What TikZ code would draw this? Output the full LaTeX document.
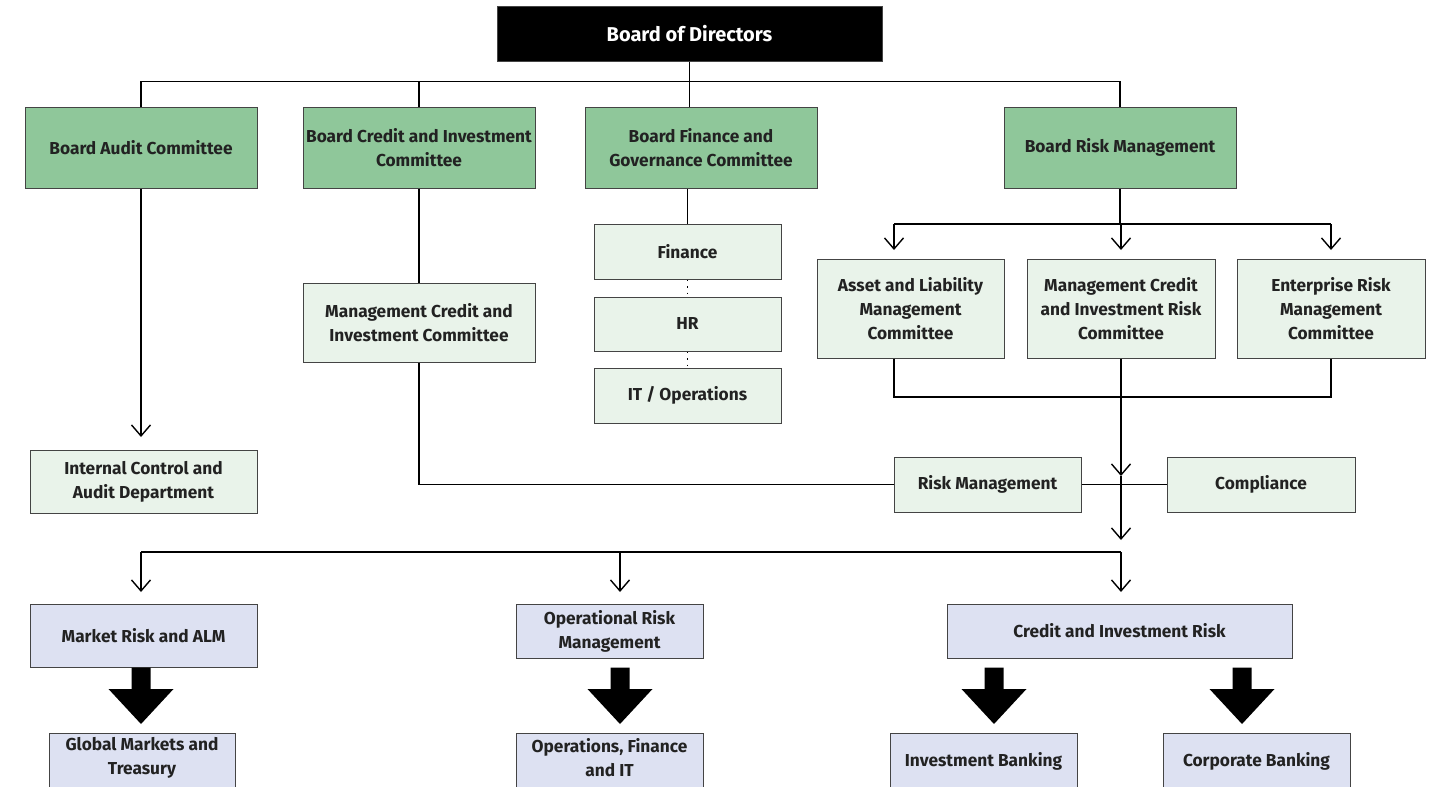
\documentclass[tikz,border=0pt]{standalone}
\usepackage{fontspec}
\setmainfont{Fira Sans}
\usetikzlibrary{arrows.meta,calc}
\definecolor{gr}{HTML}{8FC79A}
\definecolor{lg}{HTML}{E9F3EA}
\definecolor{lb}{HTML}{DDE1F2}
\definecolor{bc}{HTML}{444444}
\definecolor{tc}{HTML}{222222}
\newcommand\blockarrow[2]{%
  \fill[black] ($(#1)+(-9.5,0)$) -- ($(#1)+(9.5,0)$) -- ($(#2)+(9.5,-35)$) -- ($(#2)+(32.5,-35)$) -- (#2) -- ($(#2)+(-32.5,-35)$) -- ($(#2)+(-9.5,-35)$) -- cycle;}
\begin{document}
\begin{tikzpicture}[x=1pt,y=-1pt,
  txt/.style={align=center, font=\fontsize{17.3}{24}\selectfont\bfseries, text=tc, inner sep=0pt},
  box/.style={txt, draw=bc, line width=1pt},
  gbox/.style={box, fill=gr},
  lbox/.style={box, fill=lg},
  bbox/.style={box, fill=lb},
  sz/.style 2 args={minimum width=#1pt, minimum height=#2pt},
  conn/.style={line width=1.6pt, black},
  arr/.style={conn, -{Straight Barb[length=11pt,width=19pt,line width=1.4pt]}},
  dotc/.style={line width=1.6pt, dash pattern=on 1.6pt off 5pt}
]
\clip (0,0) rectangle (1433,787);
\fill[white] (0,0) rectangle (1433,787);

% top
\node[box, fill=black, text=white, sz={385}{55}, font=\fontsize{20}{24}\selectfont\bfseries] (bod) at (689.5,33.5) {Board of Directors};
\node[gbox, sz={232}{81}] (bac) at (141,147.5) {Board Audit Committee};
\node[gbox, sz={232}{81}] (bci) at (419,147.5) {Board Credit and Investment\\Committee};
\node[gbox, sz={232}{81}] (bfg) at (701,147.5) {Board Finance and\\Governance Committee};
\node[gbox, sz={232}{81}] (brm) at (1120,147.5) {Board Risk Management};

\node[lbox, sz={227}{63}] (icad) at (143.5,481.5) {Internal Control and\\Audit Department};
\node[lbox, sz={232}{79}] (mci) at (419,322.5) {Management Credit and\\Investment Committee};
\node[lbox, sz={187}{55}] (fin) at (687.5,251.5) {Finance};
\node[lbox, sz={187}{54}] (hr) at (687.5,324) {HR};
\node[lbox, sz={187}{55}] (it) at (687.5,395.5) {IT / Operations};

\node[lbox, sz={187}{99}] (alm) at (910.5,308.5) {Asset and Liability\\Management\\Committee};
\node[lbox, sz={188}{99}] (mcir) at (1121,308.5) {Management Credit\\and Investment Risk\\Committee};
\node[lbox, sz={188}{99}] (erm) at (1331,308.5) {Enterprise Risk\\Management\\Committee};

\node[lbox, sz={187}{55}] (rm) at (987.5,484.5) {Risk Management};
\node[lbox, sz={188}{55}] (comp) at (1261,484.5) {Compliance};

\node[bbox, sz={227}{63}] (mra) at (143.5,635.5) {Market Risk and ALM};
\node[bbox, sz={187}{54}] (orm) at (609.5,631) {Operational Risk\\Management};
\node[bbox, sz={345}{54}] (cir) at (1119.5,631) {Credit and Investment Risk};

\node[bbox, sz={186}{70}, anchor=north] (gmt) at (142,733) {};
\node[bbox, sz={187}{70}, anchor=north] (ofi) at (609.5,733) {};
\node[bbox, sz={187}{70}, anchor=north] (ib) at (983.5,733) {};
\node[bbox, sz={187}{70}, anchor=north] (cb) at (1256.5,733) {};
\node[txt] (gmtT) at (142,758) {Global Markets and\\Treasury};
\node[txt] (ofiT) at (609.5,758) {Operations, Finance\\and IT};
\node[txt] (ibT) at (983.5,761) {Investment Banking};
\node[txt] (cbT) at (1256.5,761) {Corporate Banking};

% coordinates
\coordinate (h1) at (0,81.5);
\coordinate (t1) at (141,437);
\coordinate (rj) at (0,224);
\coordinate (a1) at (894,224);
\coordinate (a3) at (1331,224);
\coordinate (tipr) at (0,250);
\coordinate (bj) at (0,397);
\coordinate (x894) at (894,0);
\coordinate (x1121) at (1121,0);
\coordinate (m1) at (1121,476);
\coordinate (m2) at (1121,540);
\coordinate (hl) at (0,552);
\coordinate (xa) at (141,0);
\coordinate (xb) at (620,0);
\coordinate (tipb) at (0,592);
\coordinate (xib) at (994,0);
\coordinate (xcb) at (1242,0);
\coordinate (bt) at (0,724);

% connectors top
\draw[conn] (bod.south) -- (bod.south |- bfg.north);
\draw[conn] (bac.north) -- (bac.north |- h1) -- (brm.north |- h1) -- (brm.north);
\draw[conn] (bci.north) -- (bci.north |- h1);

\draw[arr] (bac.south) -- (t1);
\draw[conn] (bci.south) -- (mci.north);
\draw[conn] (mci.south) |- (rm.west);
\draw[conn] (fin.north) -- (fin.north |- bfg.south);
\draw[dotc] (fin.south) -- (hr.north);
\draw[dotc] (hr.south) -- (it.north);

\draw[conn] (brm.south) -- (brm.south |- rj);
\draw[conn] (a1) -- (a3);
\draw[arr] (a1) -- (a1 |- tipr);
\draw[arr] (x1121 |- rj) -- (x1121 |- tipr);
\draw[arr] (a3) -- (a3 |- tipr);

\draw[conn] (x894 |- alm.south) -- (x894 |- bj) -- (erm.south |- bj) -- (erm.south);
\draw[arr] (x1121 |- mcir.south) -- (m1);
\draw[arr] (m1) -- (m2);
\draw[conn] (rm.east) -- (comp.west);

\draw[conn] (xa |- hl) -- (x1121 |- hl);
\draw[arr] (xa |- hl) -- (xa |- tipb);
\draw[arr] (xb |- hl) -- (xb |- tipb);
\draw[arr] (x1121 |- hl) -- (x1121 |- tipb);

% block arrows
\blockarrow{xa |- mra.south}{xa |- bt}
\blockarrow{xb |- mra.south}{xb |- bt}
\blockarrow{xib |- mra.south}{xib |- bt}
\blockarrow{xcb |- mra.south}{xcb |- bt}
\end{tikzpicture}
\end{document}
